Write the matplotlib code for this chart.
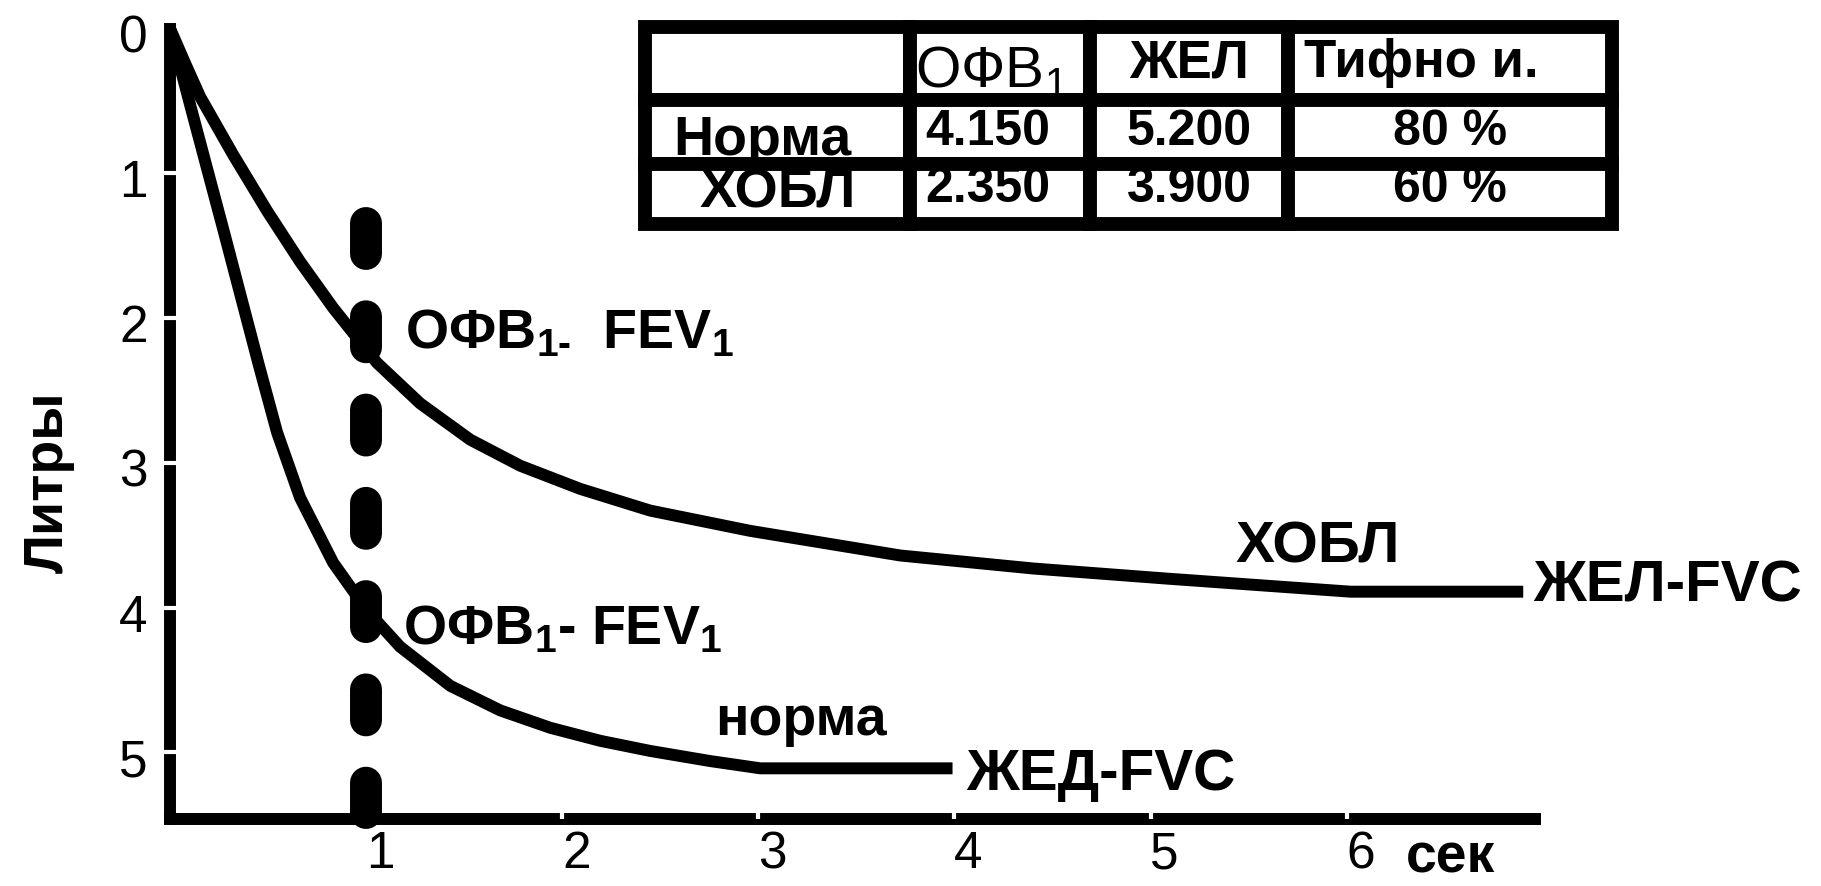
import matplotlib
matplotlib.use('Agg')
import matplotlib.pyplot as plt
from matplotlib.transforms import ScaledTranslation, Affine2D

plt.rcParams['font.family'] = ['Liberation Sans', 'DejaVu Sans']
plt.rcParams['mathtext.fontset'] = 'custom'
plt.rcParams['mathtext.rm'] = 'Liberation Sans'
plt.rcParams['mathtext.bf'] = 'Liberation Sans:bold'
plt.rcParams['mathtext.default'] = 'regular'

# ---------------- data ----------------
copd_t = [0.0, 0.077, 0.153, 0.321, 0.495, 0.663, 0.832, 1.056, 1.276, 1.531,
          1.786, 2.092, 2.449, 2.959, 3.724, 4.403, 5.087, 6.02, 6.90]
copd_v = [0.0, 0.24, 0.47, 0.87, 1.26, 1.61, 1.93, 2.31, 2.59, 2.84,
          3.02, 3.18, 3.33, 3.47, 3.64, 3.73, 3.80, 3.89, 3.89]
norm_t = [0.0, 0.107, 0.276, 0.454, 0.546, 0.663, 0.832, 1.005, 1.173, 1.429,
          1.684, 1.939, 2.194, 2.449, 2.755, 3.01, 3.99]
norm_v = [0.0, 0.55, 1.41, 2.33, 2.79, 3.24, 3.69, 4.02, 4.27, 4.54,
          4.71, 4.83, 4.92, 4.99, 5.06, 5.11, 5.11]
fev_time = 1.0
x_ticks = [1, 2, 3, 4, 5, 6]
y_ticks = [0, 1, 2, 3, 4, 5]

table_header = ['', 'ОФВ$_1$', 'ЖЕЛ', 'Тифно и.']
table_rows = ['Норма', 'ХОБЛ']
table_fev1 = ['4.150', '2.350']
table_fvc = ['5.200', '3.900']
table_tiff = ['80 %', '60 %']

# ---------------- figure ----------------
W, H = 1821, 886
fig = plt.figure(figsize=(W / 100, H / 100), dpi=100)
ax = fig.add_axes([170 / W, 1 - 819 / H, (1535 - 170) / W, (819 - 28.5) / H])
ax.set_xlim(0, 6.96)
ax.set_ylim(5.46, 0)
ax.set_axisbelow(False)

for s in ['top', 'right']:
    ax.spines[s].set_visible(False)
for s in ['left', 'bottom']:
    ax.spines[s].set_linewidth(8.6)
    ax.spines[s].set_capstyle('projecting')
    ax.spines[s].set_color('black')

ax.plot(copd_t, copd_v, color='black', lw=8.6, solid_joinstyle='round',
        solid_capstyle='butt', zorder=2, clip_on=False)
ax.plot(norm_t, norm_v, color='black', lw=8.6, solid_joinstyle='round',
        solid_capstyle='butt', zorder=2, clip_on=False)

dash, = ax.plot([fev_time, fev_time], [1.34, 5.42], color='black', lw=23,
                dash_capstyle='round', zorder=4, clip_on=False)
dash.set_dashes((0.97, 1.95))

ax.set_xticks(x_ticks)
ax.set_xticklabels([str(v) for v in x_ticks])
ax.set_yticks(y_ticks)
ax.set_yticklabels([str(v) for v in y_ticks])
ax.tick_params(axis='x', direction='in', length=5, width=3, color='white',
               labelsize=37, pad=8)
ax.tick_params(axis='y', direction='inout', length=14, width=3, color='white',
               labelsize=37, pad=9)
ax.yaxis.get_major_ticks()[0].tick1line.set_visible(False)
for lbl in ax.get_xticklabels():
    lbl.set_transform(lbl.get_transform() + ScaledTranslation(0.14, 0, fig.dpi_scale_trans))
for lbl in ax.get_yticklabels():
    lbl.set_transform(lbl.get_transform() + ScaledTranslation(0, -0.05, fig.dpi_scale_trans))

ax.set_ylabel('Литры', fontsize=40, fontweight='bold')
ax.yaxis.set_label_coords(-0.0696, 0.426)

txt = dict(color='black', fontweight='bold', clip_on=False)
ax.text(6.53, 5.83, 'сек', fontsize=40, ha='center', va='baseline', **txt)
ax.text(5.85, 3.69, 'ХОБЛ', fontsize=42, ha='center', va='baseline', **txt)
ax.text(6.95, 3.96, 'ЖЕЛ-FVC', fontsize=42, ha='left', va='baseline', **txt)
ax.text(4.06, 5.26, 'ЖЕД-FVC', fontsize=42, ha='left', va='baseline', **txt)
ax.text(2.78, 4.88, 'норма', fontsize=40, ha='left', va='baseline', **txt)
ax.text(1.20, 2.21, 'ОФВ$_{1\u2010}$  FEV$_1$', fontsize=40, ha='left', va='baseline', **txt)
ax.text(1.19, 4.25, 'ОФВ$_1$- FEV$_1$', fontsize=40, ha='left', va='baseline', **txt)

# ---------------- table ----------------
cells = [table_header]
for i in range(len(table_rows)):
    cells.append([table_rows[i], table_fev1[i], table_fvc[i], table_tiff[i]])

col_w = [265, 180, 198, 324]
row_h = [73, 64, 60]
tot_w = sum(col_w)
tbl = ax.table(cellText=cells, colWidths=[c / tot_w for c in col_w],
               cellLoc='center',
               bbox=[(645 - 170) / 1365, 1 - (224 - 28.5) / 790.5,
                     tot_w / 1365, sum(row_h) / 790.5])
tbl.auto_set_font_size(False)
for (r, c), cell in tbl.get_celld().items():
    cell.set_linewidth(10)
    cell.set_edgecolor('black')
    cell.set_height(row_h[r] / sum(row_h))
    t = cell.get_text()
    t.set_fontweight('bold')
    t.set_fontsize(36)
    if r == 0:
        t.set_fontsize(38)
    if r == 0 and c == 1:
        t.set_fontweight('normal')
        t.set_fontsize(42)
        t.set_ha('left')
        cell.PAD = 0.03
        t.set_transform(Affine2D().translate(0, -9))
    if r == 0 and c == 3:
        t.set_ha('left')
        cell.PAD = 0.05
    if c == 0 and r > 0:
        t.set_fontsize(40)
    if r == 1 and c == 0:
        t.set_transform(Affine2D().translate(-15, -9))
    if r == 2 and c > 0:
        t.set_transform(Affine2D().translate(0, 5))
    if c == 1 and r > 0:
        t.set_transform(Affine2D().translate(-12, 0 if r == 1 else 5))

fig.savefig('out.png', dpi=100)
